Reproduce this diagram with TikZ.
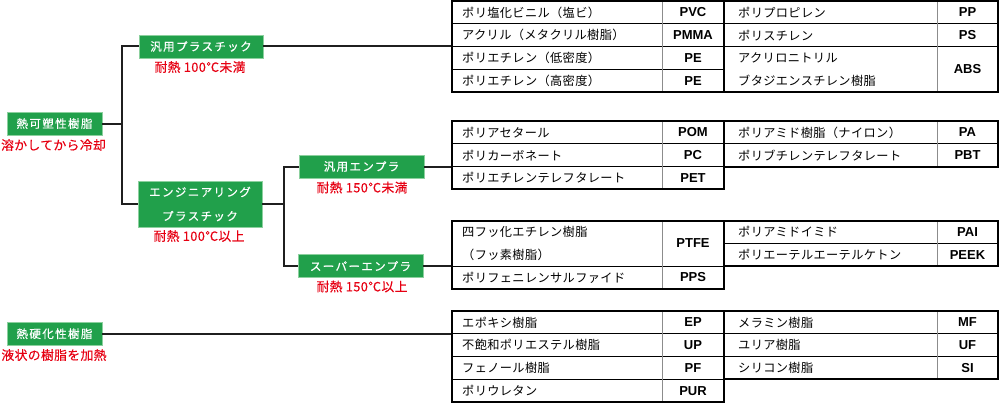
\documentclass[tikz,border=0pt]{standalone}
\usepackage{fontspec}
\setmainfont{Noto Sans CJK JP}
\newfontfamily\jpbox{Noto Sans CJK JP}[LetterSpace=12,FakeBold=0.6]
\newfontfamily\jpred{Noto Sans CJK JP}[LetterSpace=3,FakeBold=0.3]
\newfontfamily\jpcell{Noto Sans CJK JP}[LetterSpace=3]
\newfontfamily\abbrf{Liberation Sans}
\definecolor{tgreen}{RGB}{33,160,75}
\definecolor{tgreenl}{RGB}{140,208,158}
\definecolor{tred}{RGB}{230,0,18}
\tikzset{
  conn/.style={line width=2pt, draw=black!88},
  outer/.style={line width=2pt, draw=black},
  inner/.style={line width=1pt, draw=black},
  vdiv/.style={line width=1pt, draw=black!45},
  gbox/.style={fill=tgreen, draw=tgreenl, line width=0.8pt, text=white,
    font=\jpbox\fontsize{11.5}{24}\selectfont, minimum height=23pt, inner sep=0pt, align=center},
  rlabel/.style={text=tred, font=\jpred\fontsize{12.8}{14}\selectfont, inner sep=0pt},
  cname/.style={anchor=west, font=\jpcell\fontsize{12.2}{14}\selectfont, inner sep=0pt},
  cabbr/.style={font=\abbrf\bfseries\fontsize{13}{14}\selectfont, inner sep=0pt}
}
\begin{document}
\begin{tikzpicture}[x=1pt,y=-1pt]
\useasboundingbox (0,0) rectangle (1000,404);

% ---------- green category boxes ----------
\node[gbox, minimum width=95pt] (tp) at (54.5,123.5) {熱可塑性樹脂};
\node[rlabel] (tpl) at (53.5,145) {溶かしてから冷却};
\node[gbox, minimum width=124pt] (gp) at (201,46.5) {汎用プラスチック};
\node[rlabel] (gpl) at (200,67) {耐熱 100℃未満};
\node[gbox, minimum width=124pt, minimum height=46pt] (eng) at (200,204) {エンジニアリング\\プラスチック};
\node[rlabel] (engl) at (199,236) {耐熱 100℃以上};
\node[gbox, minimum width=125pt] (ge) at (361.5,166.5) {汎用エンプラ};
\node[rlabel] (gel) at (362,187.5) {耐熱 150℃未満};
\node[gbox, minimum width=125pt] (se) at (360.5,266.1) {スーパーエンプラ};
\node[rlabel] (sel) at (362,286.5) {耐熱 150℃以上};
\node[gbox, minimum width=95pt] (ts) at (54.5,333.75) {熱硬化性樹脂};
\node[rlabel] (tsl) at (54,355) {液状の樹脂を加熱};

% ---------- table anchor coordinates ----------
\coordinate (t1) at (452,46.5);
\coordinate (t2) at (452,166.5);
\coordinate (t3) at (452,266.1);
\coordinate (t4) at (452,333.75);
\coordinate (j1) at (122,123.5);
\coordinate (j2) at (284,204);

% ---------- connectors ----------
\draw[conn] (tp.east) -- (j1);
\draw[conn] (gp.west) -| (j1) |- (eng.west);
\draw[conn] (eng.east) -- (j2);
\draw[conn] (ge.west) -| (j2) |- (se.west);
\draw[conn] (gp.east) -- (t1);
\draw[conn] (ge.east) -- (t2);
\draw[conn] (se.east) -- (t3);
\draw[conn] (ts.east) -- (t4);

% ---------- Table 1 ----------
\draw[inner] (452,23.75) -- (724,23.75) (452,46.5) -- (724,46.5) (452,69.25) -- (724,69.25);
\draw[inner] (724,23.75) -- (998,23.75) (724,46.5) -- (998,46.5);
\draw[vdiv] (662,1) -- (662,92) (937,1) -- (937,92);
\draw[outer] (452,1) rectangle (724,92);
\draw[outer] (724,1) rectangle (998,92);
\node[cname] (a1) at (462,12.4) {ポリ塩化ビニル（塩ビ）};
\node[cabbr] (b1) at (693,12.4) {PVC};
\node[cname] (a2) at (462,35.1) {アクリル（メタクリル樹脂）};
\node[cabbr] (b2) at (693,35.1) {PMMA};
\node[cname] (a3) at (462,57.9) {ポリエチレン（低密度）};
\node[cabbr] (b3) at (693,57.9) {PE};
\node[cname] (a4) at (462,80.6) {ポリエチレン（高密度）};
\node[cabbr] (b4) at (693,80.6) {PE};
\node[cname] (c1) at (738,12.4) {ポリプロピレン};
\node[cabbr] (d1) at (967.5,12.4) {PP};
\node[cname] (c2) at (738,35.1) {ポリスチレン};
\node[cabbr] (d2) at (967.5,35.1) {PS};
\node[cname] (c3) at (738,57.9) {アクリロニトリル};
\node[cname] (c4) at (738,80.6) {ブタジエンスチレン樹脂};
\node[cabbr] (d3) at (967.5,69.25) {ABS};

% ---------- Table 2 ----------
\draw[inner] (452,143.75) -- (724,143.75) (452,166.5) -- (724,166.5);
\draw[inner] (724,143.75) -- (998,143.75);
\draw[vdiv] (662,121) -- (662,189.25) (937,121) -- (937,166.5);
\draw[outer] (452,121) rectangle (724,189.25);
\draw[outer] (724,121) rectangle (998,166.5);
\node[cname] (e1) at (462,132.4) {ポリアセタール};
\node[cabbr] (f1) at (693,132.4) {POM};
\node[cname] (e2) at (462,155.1) {ポリカーボネート};
\node[cabbr] (f2) at (693,155.1) {PC};
\node[cname] (e3) at (462,177.9) {ポリエチレンテレフタレート};
\node[cabbr] (f3) at (693,177.9) {PET};
\node[cname] (g1) at (738,132.4) {ポリアミド樹脂（ナイロン）};
\node[cabbr] (h1) at (967.5,132.4) {PA};
\node[cname] (g2) at (738,155.1) {ポリブチレンテレフタレート};
\node[cabbr] (h2) at (967.5,155.1) {PBT};

% ---------- Table 3 ----------
\draw[inner] (452,266.1) -- (724,266.1);
\draw[inner] (724,243.3) -- (998,243.3);
\draw[vdiv] (662,220.5) -- (662,288.9) (937,220.5) -- (937,266.1);
\draw[outer] (452,220.5) rectangle (724,288.9);
\draw[outer] (724,220.5) rectangle (998,266.1);
\node[cname] (k1) at (462,231.9) {四フッ化エチレン樹脂};
\node[cname] (k2) at (462,254.7) {（フッ素樹脂）};
\node[cabbr] (l1) at (693,243.3) {PTFE};
\node[cname] (k3) at (462,277.5) {ポリフェニレンサルファイド};
\node[cabbr] (l3) at (693,277.5) {PPS};
\node[cname] (m1) at (738,231.9) {ポリアミドイミド};
\node[cabbr] (n1) at (967.5,231.9) {PAI};
\node[cname] (m2) at (738,254.7) {ポリエーテルエーテルケトン};
\node[cabbr] (n2) at (967.5,254.7) {PEEK};

% ---------- Table 4 ----------
\draw[inner] (452,333.75) -- (724,333.75) (452,356.5) -- (724,356.5) (452,379.25) -- (724,379.25);
\draw[inner] (724,333.75) -- (998,333.75) (724,356.5) -- (998,356.5);
\draw[vdiv] (662,311) -- (662,402) (937,311) -- (937,379.25);
\draw[outer] (452,311) rectangle (724,402);
\draw[outer] (724,311) rectangle (998,379.25);
\node[cname] (p1) at (462,322.4) {エポキシ樹脂};
\node[cabbr] (q1) at (693,322.4) {EP};
\node[cname] (p2) at (462,345.1) {不飽和ポリエステル樹脂};
\node[cabbr] (q2) at (693,345.1) {UP};
\node[cname] (p3) at (462,367.9) {フェノール樹脂};
\node[cabbr] (q3) at (693,367.9) {PF};
\node[cname] (p4) at (462,390.6) {ポリウレタン};
\node[cabbr] (q4) at (693,390.6) {PUR};
\node[cname] (r1) at (738,322.4) {メラミン樹脂};
\node[cabbr] (s1) at (967.5,322.4) {MF};
\node[cname] (r2) at (738,345.1) {ユリア樹脂};
\node[cabbr] (s2) at (967.5,345.1) {UF};
\node[cname] (r3) at (738,367.9) {シリコン樹脂};
\node[cabbr] (s3) at (967.5,367.9) {SI};
\end{tikzpicture}
\end{document}
